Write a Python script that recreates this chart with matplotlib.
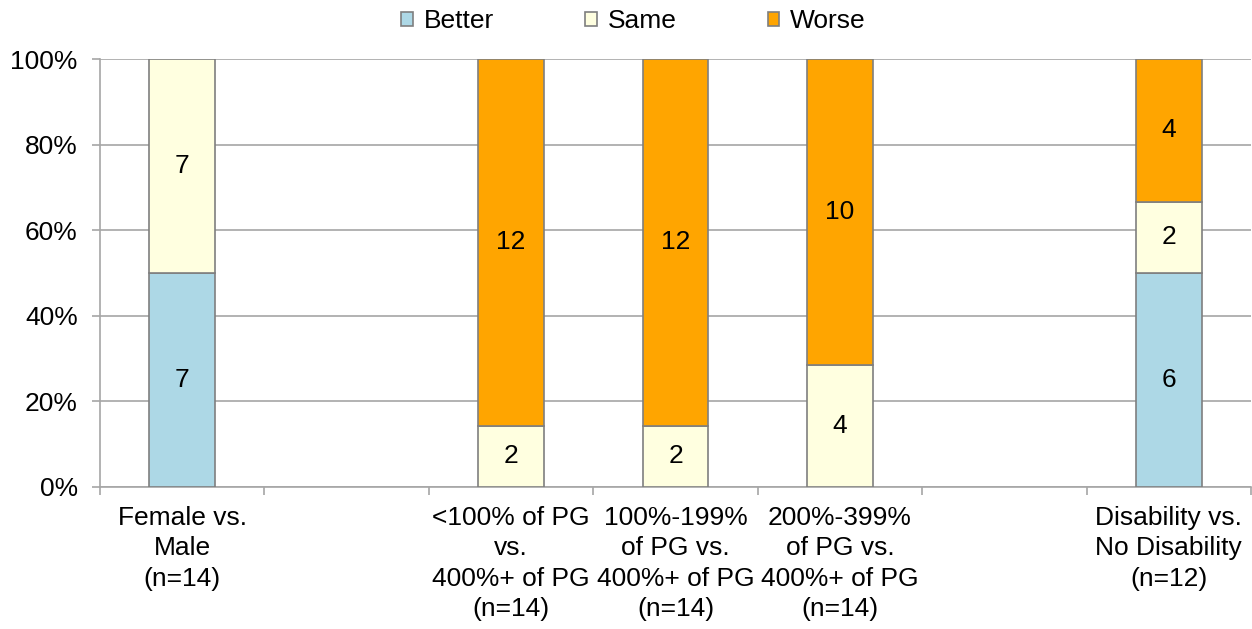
import numpy as np
import matplotlib
matplotlib.use('Agg')
import matplotlib.pyplot as plt
from matplotlib.patches import Patch

plt.rcParams['font.family'] = ['Liberation Sans', 'DejaVu Sans']

# Groups (two blank slots separate the comparisons)
groups = ['Female vs.\nMale\n(n=14)',
          '',
          '<100% of PG\nvs.\n400%+ of PG\n(n=14)',
          '100%-199%\nof PG vs.\n400%+ of PG\n(n=14)',
          '200%-399%\nof PG vs.\n400%+ of PG\n(n=14)',
          '',
          'Disability vs.\nNo Disability\n(n=12)']

# Counts per group
better = np.array([7, 0, 0, 0, 0, 0, 6])
same = np.array([7, 0, 2, 2, 4, 0, 2])
worse = np.array([0, 0, 12, 12, 10, 0, 4])

series = [('Better', better, '#ADD8E6'),
          ('Same', same, '#FFFFE0'),
          ('Worse', worse, '#FFA500')]

total = better + same + worse
denom = np.where(total > 0, total, 1)

fig = plt.figure(figsize=(12.52, 6.29), dpi=100)
ax = fig.add_axes([0.0799, 0.2258, 0.9193, 0.6804])

x = np.arange(len(groups))
edge = '#7F7F7F'
fs = 19
bottom = np.zeros(len(groups))
for name, vals, col in series:
    share = vals / denom * 100
    m = vals > 0
    ax.bar(x[m], share[m], 0.4, bottom=bottom[m], color=col, edgecolor=edge,
           linewidth=1.2, zorder=3)
    for xi, v, s, b in zip(x, vals, share, bottom):
        if v > 0:
            ax.text(xi, b + s / 2, str(v), ha='center', va='center',
                    fontsize=fs, zorder=4)
    bottom = bottom + share

ax.set_xlim(-0.5, len(groups) - 0.5)
ax.set_ylim(0, 100)
ax.set_yticks(np.arange(0, 101, 20))
ax.set_yticklabels([f'{v}%' for v in range(0, 101, 20)], fontsize=fs)
ax.yaxis.grid(True, color='#A6A6A6', linewidth=1.2, zorder=0)
ax.tick_params(axis='y', length=6, color='#A6A6A6', width=1.2, pad=10)

# category labels centred, tick marks on the slot boundaries
ax.set_xticks(x)
ax.set_xticklabels(groups, fontsize=fs, linespacing=1.32)
ax.tick_params(axis='x', which='major', length=0, pad=14)
ax.set_xticks(np.arange(-0.5, len(groups)), minor=True)
ax.tick_params(axis='x', which='minor', length=6, color='#A6A6A6', width=1.2)

for s in ['top', 'right']:
    ax.spines[s].set_visible(False)
for s in ['left', 'bottom']:
    ax.spines[s].set_color('#A6A6A6')
    ax.spines[s].set_linewidth(1.2)

handles = [Patch(facecolor=c, edgecolor=edge, linewidth=1.2, label=n)
           for n, _, c in series]
fig.legend(handles=handles, loc='upper center', bbox_to_anchor=(0.506, 1.023),
           ncol=3, frameon=False, fontsize=fs, handlelength=0.45,
           handleheight=0.45, handletextpad=0.4, columnspacing=3.45)

fig.savefig('out.png', dpi=100, facecolor='white')
